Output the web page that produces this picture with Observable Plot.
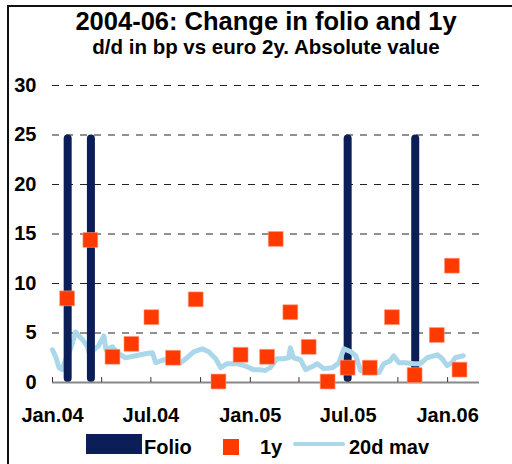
<!DOCTYPE html>
<html>
<head>
<meta charset="utf-8">
<script src="https://cdn.jsdelivr.net/npm/d3@7"></script>
<script src="https://cdn.jsdelivr.net/npm/@observablehq/plot@0.6"></script>
<style>
  html, body { margin: 0; padding: 0; background: #fff; }
  body { width: 512px; height: 464px; position: relative; overflow: hidden;
         font-family: "Liberation Sans", Arial, sans-serif; font-weight: bold; color: #000; }
  .frame { position: absolute; left: 7px; top: 5px; width: 700px; height: 700px;
           border-left: 2px solid #111; border-top: 2px solid #111; }
  .title { position: absolute; left: 0; width: 532px; top: 8.5px; text-align: center;
           font-size: 25.5px; line-height: 25px; }
  .subtitle { position: absolute; left: 0; width: 532px; top: 36.5px; text-align: center;
              font-size: 20.5px; line-height: 20px; }
  #chart { position: absolute; left: 0; top: 60px; }
  .legend { position: absolute; left: 0; top: 432px; width: 512px; height: 32px; font-size: 20px; }
  .legend .item { position: absolute; }
  .legend .txt { position: absolute; top: 5px; line-height: 20px; }
</style>
</head>
<body>
<div class="frame"></div>
<div class="title">2004-06: Change in folio and 1y</div>
<div class="subtitle">d/d in bp vs euro 2y. Absolute value</div>
<div id="chart"></div>
<div class="legend">
  <div class="item" style="left:86px; top:2px; width:56px; height:20px; background:#0b1e58;"></div>
  <div class="txt" style="left:144px;">Folio</div>
  <div class="item" style="left:223px; top:7px; width:16px; height:16px; background:#ff3a00;"></div>
  <div class="txt" style="left:260px;">1y</div>
  <div class="item" style="left:293px; top:10px; width:52px; height:4px; border-radius:2px; background:#aad8ea;"></div>
  <div class="txt" style="left:349px;">20d mav</div>
</div>
<script>
// ---- Data ----
const folioDates = ["2004-01-30", "2004-03-13", "2005-07-01", "2005-11-03"];
const folioValues = [25, 25, 25, 25];

const oneYDates = ["2004-01-28", "2004-03-11", "2004-04-21", "2004-05-26", "2004-07-02",
  "2004-08-11", "2004-09-22", "2004-11-03", "2004-12-14", "2005-02-01", "2005-02-17",
  "2005-03-16", "2005-04-19", "2005-05-24", "2005-06-30", "2005-08-10", "2005-09-20",
  "2005-11-01", "2005-12-12", "2006-01-09", "2006-01-23"];
const oneYValues = [8.5, 14.4, 2.6, 3.9, 6.6, 2.5, 8.4, 0.1, 2.8, 2.6, 14.5,
  7.1, 3.6, 0.1, 1.5, 1.5, 6.6, 0.75, 4.8, 11.8, 1.3];

const mavDates = ["2004-01-01", "2004-01-07", "2004-01-13", "2004-01-19", "2004-01-25",
  "2004-02-04", "2004-02-13", "2004-02-19", "2004-02-26", "2004-03-06", "2004-03-12",
  "2004-03-15", "2004-03-26", "2004-04-05", "2004-04-09", "2004-04-21", "2004-04-30",
  "2004-05-15", "2004-06-03", "2004-06-21", "2004-07-04", "2004-07-10", "2004-07-25",
  "2004-08-10", "2004-08-25", "2004-09-06", "2004-09-18", "2004-10-04", "2004-10-16",
  "2004-10-29", "2004-11-07", "2004-11-19", "2004-12-08", "2004-12-26", "2005-01-07",
  "2005-01-19", "2005-01-28", "2005-02-07", "2005-02-19", "2005-03-03", "2005-03-13",
  "2005-03-16", "2005-03-22", "2005-04-04", "2005-04-13", "2005-04-29", "2005-05-05",
  "2005-05-17", "2005-06-02", "2005-06-14", "2005-06-23", "2005-07-06", "2005-07-15",
  "2005-07-24", "2005-08-12", "2005-08-27", "2005-09-05", "2005-09-17", "2005-09-23",
  "2005-10-03", "2005-10-15", "2005-10-31", "2005-11-12", "2005-11-24", "2005-12-13",
  "2005-12-22", "2005-12-31", "2006-01-09", "2006-01-15", "2006-01-30"];
const mavValues = [3.3, 2.6, 1.5, 1.3, 2.3,
  3.5, 5.1, 4.7, 4.3, 3.6, 2.3,
  3.2, 3.7, 4.7, 3.3, 3.6, 3.0,
  2.5, 2.7, 2.9, 3.0, 2.0, 2.3,
  2.2, 2.0, 2.5, 3.1, 3.4, 3.1,
  2.4, 1.5, 1.9, 1.9, 1.6, 1.3,
  1.3, 1.2, 1.5, 2.4, 2.4, 2.5,
  3.5, 2.5, 2.3, 1.3, 1.7, 1.9,
  1.4, 1.5, 2.0, 3.4, 3.1, 2.7,
  1.2, 1.0, 1.0, 1.9, 2.2, 2.7,
  2.0, 2.0, 1.9, 1.9, 2.5, 2.8,
  2.4, 1.7, 2.0, 2.5, 2.7];

const yTicks = [0, 5, 10, 15, 20, 25, 30];
const xLabelDates = ["2004-01-01", "2004-07-01", "2005-01-01", "2005-07-01", "2006-01-01"];
const xDomain = ["2004-01-01", "2006-03-01"];

// ---- Build tables ----
const parse = d3.utcParse("%Y-%m-%d");
const folio = folioDates.map((d, i) => ({date: parse(d), value: folioValues[i]}));
const oneY = oneYDates.map((d, i) => ({date: parse(d), value: oneYValues[i]}));
const mav = mavDates.map((d, i) => ({date: parse(d), value: mavValues[i]}));
const domain = xDomain.map(parse);
const quarterTicks = d3.utcMonth.every(3).range(domain[0], d3.utcDay.offset(parse("2006-01-01"), 1));
const halfDay = 7.4 * 864e5;

const NAVY = "#0b1e58", ORANGE = "#ff3a00", LIGHTBLUE = "#aad8ea";
const fmt = d => d3.utcFormat("%b")(d) + "." + d3.utcFormat("%y")(d);

const chart = Plot.plot({
  width: 512,
  height: 372,
  marginLeft: 52,
  marginRight: 33,
  marginTop: 25,
  marginBottom: 50,
  style: {fontFamily: "Liberation Sans, Arial, sans-serif", fontWeight: "bold", fontSize: "20px", color: "#000", background: "transparent"},
  x: {type: "utc", domain},
  y: {domain: [0, 30]},
  marks: [
    Plot.ruleY(yTicks.filter(v => v > 0), {stroke: "#222", strokeDasharray: "7,7", strokeWidth: 1}),
    Plot.rectY(folio.filter(d => d.date.getUTCFullYear() === 2005), {
      x1: d => new Date(+d.date - halfDay), x2: d => new Date(+d.date + halfDay),
      y: "value", fill: NAVY, rx: 4}),
    Plot.line(mav, {x: "date", y: "value", stroke: LIGHTBLUE, strokeWidth: 5, strokeLinejoin: "round", strokeLinecap: "round"}),
    Plot.rectY(folio.filter(d => d.date.getUTCFullYear() === 2004), {
      x1: d => new Date(+d.date - halfDay), x2: d => new Date(+d.date + halfDay),
      y: "value", fill: NAVY, rx: 4}),
    Plot.ruleY([0], {stroke: "#888", strokeWidth: 2}),
    Plot.ruleX(quarterTicks, {y1: 0, y2: 0.5, stroke: "#333", strokeWidth: 1}),
    Plot.dot(oneY, {x: "date", y: "value", symbol: "square", r: 8.4, fill: ORANGE, stroke: "#ff9a80", strokeWidth: 0.6}),
    Plot.axisY({ticks: yTicks, tickSize: 0, tickPadding: 16, label: null, fontSize: 20, fontWeight: "bold"}),
    Plot.axisX({ticks: xLabelDates.map(parse), tickSize: 0, tickPadding: 25, tickFormat: fmt, label: null, fontSize: 20, fontWeight: "bold"})
  ]
});
document.getElementById("chart").appendChild(chart);
</script>
</body>
</html>
